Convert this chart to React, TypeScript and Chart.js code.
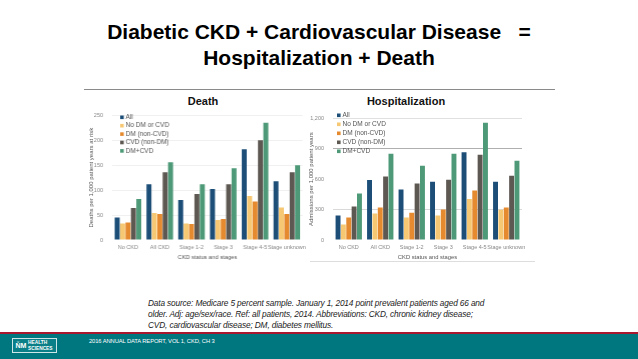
import React, { useEffect, useRef } from "react";
import { Chart, registerables } from "chart.js";

Chart.register(...registerables);

const categories = ["No CKD", "All CKD", "Stage 1-2", "Stage 3", "Stage 4-5", "Stage unknown"];
const seriesNames = ["All", "No DM or CVD", "DM (non-CVD)", "CVD (non-DM)", "DM+CVD"];
const seriesColors = ["#1C4E78", "#F7C873", "#E58A2E", "#5E5852", "#4E9A78"];

const deathAll = [45, 112, 80, 102, 182, 118];
const deathNoDmCvd = [33, 54, 33, 40, 88, 65];
const deathDm = [35, 52, 32, 42, 77, 52];
const deathCvd = [64, 136, 92, 112, 200, 136];
const deathDmCvd = [82, 156, 112, 144, 235, 150];

const hospAll = [242, 592, 497, 575, 866, 575];
const hospNoDmCvd = [154, 262, 222, 242, 405, 298];
const hospDm = [222, 320, 268, 301, 487, 320];
const hospCvd = [330, 625, 556, 595, 840, 634];
const hospDmCvd = [458, 850, 732, 850, 1157, 781];

const deathTicks = [0, 50, 100, 150, 200, 250];
const hospTicks = [0, 300, 600, 900, 1200];

const FONT = "'Liberation Sans', Arial, sans-serif";

type BoxProps = {
  left: number;
  top: number;
  width: number;
  height: number;
  series: number[][];
  ticks: number[];
  yTitle: string;
  yWidth: number;
  xHeight: number;
  padTop: number;
  padRight: number;
  legendX: number;
  legendY: number;
  legendStep: number;
  gridColors: (v: number) => string;
};

function ChartBox(p: BoxProps) {
  const ref = useRef<HTMLCanvasElement | null>(null);
  useEffect(() => {
    if (!ref.current) return;
    const legendPlugin = {
      id: "inlineLegend",
      afterDatasetsDraw(chart: any) {
        const ctx = chart.ctx;
        ctx.save();
        ctx.font = `6.5px ${FONT}`;
        ctx.textBaseline = "middle";
        ctx.textAlign = "left";
        seriesNames.forEach((n, i) => {
          const y = p.legendY - p.top + i * p.legendStep;
          const x = p.legendX - p.left;
          ctx.fillStyle = seriesColors[i];
          ctx.fillRect(x, y - 1.8, 3.6, 3.6);
          ctx.fillStyle = "#555";
          ctx.fillText(n, x + 5.5, y);
        });
        ctx.restore();
      },
    };
    const chart = new Chart(ref.current, {
      type: "bar",
      data: {
        labels: categories,
        datasets: seriesNames.map((n, i) => ({
          label: n,
          data: p.series[i],
          backgroundColor: seriesColors[i],
          borderWidth: 0,
          barPercentage: 0.92,
          categoryPercentage: 0.85,
        })),
      },
      options: {
        animation: false,
        responsive: false,
        maintainAspectRatio: false,
        layout: { padding: { top: p.padTop, right: p.padRight, left: 0, bottom: 0 } },
        plugins: { legend: { display: false }, tooltip: { enabled: false } },
        scales: {
          x: {
            grid: { display: false, drawTicks: false },
            border: { display: false },
            ticks: { color: "#888", font: { family: FONT, size: 5.5 }, padding: 4, maxRotation: 0, autoSkip: false },
            title: { display: true, text: "CKD status and stages", color: "#555", font: { family: FONT, size: 5.8 }, padding: { top: 1, bottom: 0 } },
            afterFit: (s: any) => { s.height = p.xHeight; },
          },
          y: {
            min: p.ticks[0],
            max: p.ticks[p.ticks.length - 1],
            afterBuildTicks: (s: any) => { s.ticks = p.ticks.map((v) => ({ value: v })); },
            grid: { drawTicks: false, color: (c: any) => p.gridColors(c.tick ? c.tick.value : 0), lineWidth: 0.8 },
            border: { display: false },
            ticks: {
              color: "#888",
              font: { family: FONT, size: 5.5 },
              padding: 9,
              callback: (v: any) => Number(v).toLocaleString("en-US"),
            },
            title: { display: true, text: p.yTitle, color: "#555", font: { family: FONT, size: 6 }, padding: 0 },
            afterFit: (s: any) => { s.width = p.yWidth; },
          },
        },
      },
      plugins: [legendPlugin],
    });
    return () => chart.destroy();
  }, []);
  return (
    <canvas
      ref={ref}
      width={p.width}
      height={p.height}
      style={{ position: "absolute", left: p.left, top: p.top, width: p.width, height: p.height }}
    />
  );
}

export default function App() {
  const abs = (o: React.CSSProperties): React.CSSProperties => ({ position: "absolute", ...o });
  return (
    <div style={{ position: "fixed", left: 0, top: 0, width: 638, height: 359, background: "#fff", overflow: "hidden", fontFamily: FONT }}>
      <div style={abs({ left: 0, top: 19, width: 638, textAlign: "center", fontWeight: "bold", fontSize: 21, lineHeight: "26px", color: "#000" })}>
        Diabetic CKD + Cardiovascular Disease&nbsp;&nbsp; =<br />Hospitalization + Death
      </div>
      <div style={abs({ left: 84, top: 89, width: 471, height: 1, background: "#8a8a8a" })} />
      <div style={abs({ left: 153, top: 95, width: 100, textAlign: "center", fontWeight: "bold", fontSize: 11, color: "#111" })}>Death</div>
      <div style={abs({ left: 356, top: 95, width: 100, textAlign: "center", fontWeight: "bold", fontSize: 11, color: "#111" })}>Hospitalization</div>

      <ChartBox
        left={88}
        top={102.7}
        width={221.6}
        height={158.3}
        series={[deathAll, deathNoDmCvd, deathDm, deathCvd, deathDmCvd]}
        ticks={deathTicks}
        yTitle="Deaths per 1,000 patient years at risk"
        yWidth={24}
        xHeight={21}
        padTop={5}
        padRight={2}
        legendX={120}
        legendY={117}
        legendStep={8.4}
        gridColors={(v) => (v === 0 ? "rgba(0,0,0,0)" : "#ececec")}
      />
      <ChartBox
        left={308}
        top={105.7}
        width={226}
        height={155.8}
        series={[hospAll, hospNoDmCvd, hospDm, hospCvd, hospDmCvd]}
        ticks={hospTicks}
        yTitle="Admissions per 1,000 patient years"
        yWidth={25}
        xHeight={21}
        padTop={8}
        padRight={12}
        legendX={337}
        legendY={115}
        legendStep={9}
        gridColors={(v) => (v === 900 ? "#9a9a9a" : v === 300 ? "#cfcfcf" : v === 1200 ? "#d8d8d8" : "rgba(0,0,0,0)")}
      />
      <div style={abs({ left: 310, top: 261, width: 225, height: 1, background: "#ddd" })} />

      <div style={abs({ left: 148, top: 298, width: 360, fontStyle: "italic", fontSize: 8.3, lineHeight: "11px", color: "#222", letterSpacing: -0.15 })}>
        Data source: Medicare 5 percent sample. January 1, 2014 point prevalent patients aged 66 and
        <br />older. Adj: age/sex/race. Ref: all patients, 2014. Abbreviations: CKD, chronic kidney disease;
        <br />CVD, cardiovascular disease; DM, diabetes mellitus.
      </div>

      <div style={abs({ left: 0, top: 332, width: 638, height: 2, background: "#A8192F" })} />
      <div style={abs({ left: 0, top: 334, width: 638, height: 25, background: "#00777F" })} />
      <div style={abs({ left: 12, top: 338, width: 45, height: 15, border: "1px solid #cfe6e8", boxSizing: "border-box", background: "#0a7f88" })}>
        <div style={abs({ left: 2, top: 1, width: 12, height: 11, color: "#fff", fontSize: 7, fontWeight: "bold", lineHeight: "11px", textAlign: "center" })}>ŇM</div>
        <div style={abs({ left: 15, top: 1, color: "#fff", fontSize: 4.8, lineHeight: "5.5px", fontWeight: "bold" })}>
          HEALTH<br />SCIENCES
        </div>
      </div>
      <div style={abs({ left: 89, top: 338, color: "#fff", fontSize: 5.8, whiteSpace: "nowrap", letterSpacing: -0.1 })}>
        2016 ANNUAL DATA REPORT, VOL 1, CKD, CH 3
      </div>
    </div>
  );
}
